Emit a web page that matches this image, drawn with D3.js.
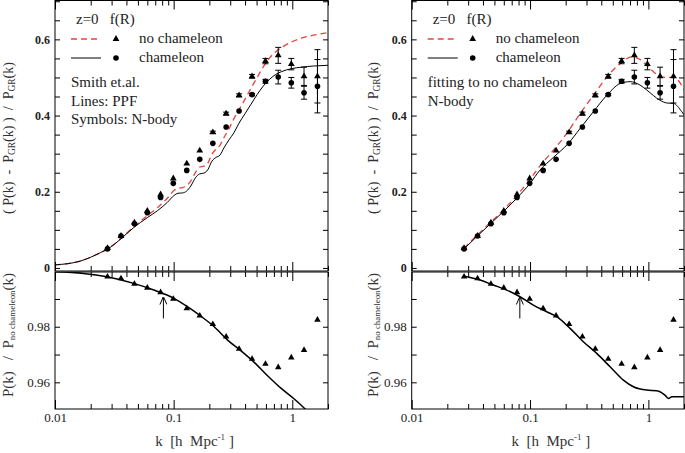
<!DOCTYPE html>
<html lang="en">
<head>
<meta charset="UTF-8">
<title>f(R) chameleon power spectrum</title>
<script src="https://d3js.org/d3.v7.min.js"></script>
<style>
  body { margin: 0; background: #fff; }
  svg { display: block; font-family: 'Liberation Serif', 'DejaVu Serif', serif; }
  .frame { fill: none; stroke: #000; stroke-width: 1; }
  .axis path { display: none; }
  .axis line { stroke: #000; stroke-width: 1; }
  .axis text { font-family: 'Liberation Serif', serif; fill: #222; }
  .up-y text { font-size: 12px; font-weight: bold; }
  .low-y text, .low-x text { font-size: 13px; }
  .legend { font-size: 15px; fill: #222; white-space: pre; }
  .ylab, .xlab { font-size: 15px; fill: #333; white-space: pre; }
</style>
</head>
<body>
<svg width="685" height="453"></svg>
<script>
// N-body measurements (same in both panels)
const kNbody = [0.0277, 0.036, 0.0467, 0.06, 0.0776, 0.0993, 0.129, 0.166, 0.214, 0.277, 0.356, 0.458, 0.594, 0.761, 0.981, 1.256, 1.63];
const nbodyNoCham = [0.052, 0.084, 0.119, 0.150, 0.193, 0.235, 0.274, 0.308, 0.356, 0.405, 0.453, 0.503, 0.543, 0.558, 0.535, 0.503, 0.503];
const nbodyNoChamErr = [0, 0, 0, 0, 0, 0, 0, 0, 0.003, 0.004, 0.004, 0.005, 0.007, 0.021, 0.015, 0.024, 0.07];
const nbodyCham = [0.050, 0.084, 0.116, 0.145, 0.185, 0.222, 0.256, 0.285, 0.327, 0.370, 0.412, 0.455, 0.490, 0.501, 0.486, 0.460, 0.477];
const nbodyChamErr = [0, 0, 0, 0, 0, 0, 0, 0, 0, 0, 0, 0.003, 0.005, 0.018, 0.014, 0.017, 0.07];
const nbodyRatio = [0.998, 0.9974, 0.9954, 0.9940, 0.9924, 0.990, 0.9866, 0.984, 0.9809, 0.9764, 0.972, 0.9684, 0.9666, 0.9654, 0.9689, 0.9716, 0.9825];

// left: PPF (Smith et al.)
const kPPF = [0.01, 0.0163, 0.0241, 0.0292, 0.0355, 0.0461, 0.0599, 0.0728, 0.0884, 0.1006, 0.1087, 0.1192, 0.1289, 0.1394, 0.1537, 0.1661, 0.1796, 0.1942, 0.2099, 0.227, 0.2454, 0.2653, 0.2925, 0.3224, 0.3555, 0.3998, 0.4494, 0.5052, 0.5679, 0.6386, 0.7177, 0.8069, 0.9806, 1.192, 1.507, 2.0];
const ppfNoCham = [0.008, 0.018, 0.040, 0.054, 0.076, 0.108, 0.137, 0.158, 0.183, 0.203, 0.209, 0.211, 0.216, 0.228, 0.252, 0.265, 0.267, 0.275, 0.298, 0.312, 0.322, 0.342, 0.365, 0.392, 0.415, 0.443, 0.472, 0.500, 0.527, 0.550, 0.566, 0.578, 0.593, 0.603, 0.611, 0.618];
const ppfCham = [0.008, 0.018, 0.040, 0.054, 0.075, 0.106, 0.132, 0.150, 0.172, 0.190, 0.196, 0.197, 0.202, 0.215, 0.238, 0.247, 0.249, 0.258, 0.280, 0.290, 0.296, 0.315, 0.336, 0.355, 0.380, 0.405, 0.430, 0.455, 0.477, 0.494, 0.507, 0.515, 0.523, 0.527, 0.530, 0.532];
const kRatioPPF = [0.01, 0.0174, 0.0274, 0.0461, 0.0681, 0.1006, 0.1306, 0.1694, 0.2197, 0.285, 0.370, 0.480, 0.622, 0.807, 1.045, 1.27, 1.6];
const ratioPPF = [0.9998, 0.9992, 0.998, 0.9956, 0.9932, 0.9902, 0.9872, 0.9838, 0.980, 0.9752, 0.9713, 0.9671, 0.9623, 0.9578, 0.9539, 0.9506, 0.946];

// right: fit to no-chameleon N-body
const kFitNoCham = [0.0277, 0.0354, 0.0459, 0.0595, 0.0772, 0.1, 0.1215, 0.1574, 0.2043, 0.2647, 0.3428, 0.445, 0.5767, 0.724, 0.8508, 1.034, 1.256, 1.43, 1.627, 1.977, 2.0];
const fitNoCham = [0.052, 0.085, 0.118, 0.152, 0.190, 0.233, 0.268, 0.309, 0.353, 0.405, 0.453, 0.501, 0.536, 0.554, 0.547, 0.523, 0.503, 0.500, 0.500, 0.471, 0.468];
const kFitCham = [0.0277, 0.0354, 0.0459, 0.0595, 0.0772, 0.1, 0.1215, 0.1574, 0.2108, 0.2647, 0.3428, 0.445, 0.5767, 0.7003, 0.8508, 0.9694, 1.256, 1.43, 1.627, 1.916, 2.0];
const fitCham = [0.050, 0.082, 0.115, 0.148, 0.183, 0.222, 0.257, 0.290, 0.327, 0.366, 0.410, 0.453, 0.484, 0.489, 0.480, 0.467, 0.440, 0.433, 0.432, 0.410, 0.402];
const kRatioFit = [0.0277, 0.0378, 0.049, 0.0635, 0.0823, 0.1066, 0.1384, 0.168, 0.218, 0.282, 0.366, 0.475, 0.615, 0.747, 0.969, 1.18, 1.38, 1.476, 1.58, 2.0];
const ratioFit = [0.9982, 0.9968, 0.995, 0.9932, 0.9908, 0.9878, 0.9854, 0.9836, 0.9794, 0.9746, 0.9704, 0.9656, 0.9608, 0.9584, 0.9572, 0.957, 0.9554, 0.9542, 0.9548, 0.9548];

// scale marker k and ticks
const arrowK = 0.082, arrowFrom = 0.983, arrowTo = 0.9905;
const xTickVals = [0.01, 0.1, 1];
const xTickLabels = ["0.01", "0.1", "1"];
const yTicksUp = [0, 0.2, 0.4, 0.6];
const yTickLabelsUp = ["0", "0.2", "0.4", "0.6"];
const yTicksLow = [0.96, 0.98];
const yTickLabelsLow = ["0.96", "0.98"];

const svg = d3.select("svg");
const red = "#e8433d";

const defs = svg.append("defs");
defs.append("marker")
  .attr("id", "arrowhead")
  .attr("viewBox", "0 -4 8 8")
  .attr("refX", 7).attr("refY", 0)
  .attr("markerWidth", 8).attr("markerHeight", 8)
  .attr("markerUnits", "userSpaceOnUse")
  .attr("orient", "auto")
  .append("path").attr("d", "M0,-3.5L8,0L0,3.5").attr("fill", "none").attr("stroke", "#000");

const panels = [
  { x0: 55, x1: 328, yl: 13, fit: false },
  { x0: 411.7, x1: 684, yl: 378, fit: true }
];
const upTop = 0.5, upBot = 271, lowTop = 272, lowBot = 409;

function drawFrameAxes(g, x, y, top, bot, x0, x1, yMinor, yMajor, yLabels, cls, showX) {
  const minorLen = 5, majorLen = 9;
  g.append("rect").attr("class", "frame")
    .attr("x", x0).attr("y", top).attr("width", x1 - x0).attr("height", bot - top);

  const xMinor = x.ticks().filter(t => !xTickVals.includes(t));
  [[d3.axisTop, top], [d3.axisBottom, bot]].forEach(([ax, yy]) => {
    g.append("g").attr("class", "axis").attr("transform", `translate(0,${yy})`)
      .call(ax(x).tickValues(xMinor).tickSize(-minorLen).tickFormat(""));
    g.append("g").attr("class", "axis").attr("transform", `translate(0,${yy})`)
      .call(ax(x).tickValues(xTickVals).tickSize(-majorLen).tickFormat(""));
  });
  if (showX) {
    g.append("g").attr("class", "axis low-x").attr("transform", `translate(0,${bot})`)
      .call(d3.axisBottom(x).tickValues(xTickVals).tickSize(0).tickPadding(4)
        .tickFormat((d, i) => xTickLabels[i]));
  }
  [[d3.axisLeft, x0], [d3.axisRight, x1]].forEach(([ax, xx]) => {
    g.append("g").attr("class", "axis").attr("transform", `translate(${xx},0)`)
      .call(ax(y).tickValues(yMinor).tickSize(-minorLen).tickFormat(""));
  });
  g.append("g").attr("class", "axis " + cls).attr("transform", `translate(${x0},0)`)
    .call(d3.axisLeft(y).tickValues(yMajor).tickSize(0).tickPadding(5)
      .tickFormat((d, i) => yLabels[i]));
}

function linePath(g, x, y, ks, vs, stroke, width, dash) {
  const pts = ks.map((k, i) => [x(k), y(vs[i])]);
  g.append("path")
    .attr("d", d3.line().curve(d3.curveMonotoneX)(pts))
    .attr("fill", "none").attr("stroke", stroke)
    .attr("stroke-width", width)
    .attr("stroke-dasharray", dash || null);
}

function errBars(g, x, y, vals, errs) {
  kNbody.forEach((k, i) => {
    if (!errs[i]) return;
    const cx = x(k), a = y(vals[i] + errs[i]), b = y(vals[i] - errs[i]);
    g.append("path")
      .attr("d", `M${cx},${a}V${b}M${cx - 3},${a}H${cx + 3}M${cx - 3},${b}H${cx + 3}`)
      .attr("stroke", "#000").attr("stroke-width", 1).attr("fill", "none");
  });
}

function triangles(g, x, y, vals, size) {
  g.selectAll(null).data(kNbody).join("path")
    .attr("d", d3.symbol(d3.symbolTriangle).size(size))
    .attr("transform", (k, i) => `translate(${x(k)},${y(vals[i])})`)
    .attr("fill", "#000");
}

// squeeze a rotated title along its own direction to a given length
function fitRotated(t, cx, cy, len) {
  const w = t.node().getComputedTextLength();
  t.attr("transform", `translate(${cx},${cy}) rotate(-90) scale(${len / w},1)`);
}

panels.forEach((p, pi) => {
  const x = d3.scaleLog().domain([0.01, 2]).range([p.x0, p.x1]);
  const yUp = d3.scaleLinear().domain([-0.008, 0.702]).range([upBot, upTop]);
  const yLow = d3.scaleLinear().domain([0.9504, 0.9997]).range([lowBot, lowTop]);

  const g = svg.append("g");
  ["up", "low"].forEach(n => {
    defs.append("clipPath").attr("id", `clip-${n}-${pi}`).append("rect")
      .attr("x", p.x0).attr("width", p.x1 - p.x0)
      .attr("y", n === "up" ? upTop : lowTop)
      .attr("height", n === "up" ? upBot - upTop : lowBot - lowTop);
  });

  // upper panel
  const up = g.append("g").attr("clip-path", `url(#clip-up-${pi})`);
  if (p.fit) {
    linePath(up, x, yUp, kFitNoCham, fitNoCham, red, 1.3, "6,4");
    linePath(up, x, yUp, kFitCham, fitCham, "#000", 1);
  } else {
    linePath(up, x, yUp, kPPF, ppfNoCham, red, 1.3, "6,4");
    linePath(up, x, yUp, kPPF, ppfCham, "#000", 1);
  }
  errBars(up, x, yUp, nbodyNoCham, nbodyNoChamErr);
  errBars(up, x, yUp, nbodyCham, nbodyChamErr);
  triangles(up, x, yUp, nbodyNoCham, 20);
  up.selectAll(null).data(kNbody).join("circle")
    .attr("cx", k => x(k)).attr("cy", (k, i) => yUp(nbodyCham[i]))
    .attr("r", 2.8).attr("fill", "#000");

  drawFrameAxes(g, x, yUp, upTop, upBot, p.x0, p.x1,
    d3.range(0, 0.7001, 0.05), yTicksUp, yTickLabelsUp, "up-y", false);

  // lower panel
  const low = g.append("g").attr("clip-path", `url(#clip-low-${pi})`);
  if (p.fit) linePath(low, x, yLow, kRatioFit, ratioFit, "#000", 1.5);
  else linePath(low, x, yLow, kRatioPPF, ratioPPF, "#000", 1.5);
  triangles(low, x, yLow, nbodyRatio, 18);
  low.append("line")
    .attr("x1", x(arrowK)).attr("x2", x(arrowK))
    .attr("y1", yLow(arrowFrom)).attr("y2", yLow(arrowTo))
    .attr("stroke", "#000").attr("stroke-width", 1)
    .attr("marker-end", "url(#arrowhead)");

  drawFrameAxes(g, x, yLow, lowTop, lowBot, p.x0, p.x1,
    [0.96, 0.97, 0.98, 0.99], yTicksLow, yTickLabelsLow, "low-y", true);

  // legend
  const lx = p.x0;
  g.append("text").attr("class", "legend").attr("x", lx + 21).attr("y", 24)
    .text("z=0   f(R)");
  g.append("line").attr("x1", lx + 16).attr("x2", lx + 46).attr("y1", 39).attr("y2", 39)
    .attr("stroke", red).attr("stroke-width", 1.3).attr("stroke-dasharray", "6,4");
  g.append("path").attr("d", d3.symbol(d3.symbolTriangle).size(20))
    .attr("transform", `translate(${lx + 61},39)`).attr("fill", "#000");
  g.append("text").attr("class", "legend").attr("x", lx + 84).attr("y", 43).text("no chameleon");
  g.append("line").attr("x1", lx + 16).attr("x2", lx + 46).attr("y1", 58).attr("y2", 58)
    .attr("stroke", "#000").attr("stroke-width", 1);
  g.append("circle").attr("cx", lx + 61).attr("cy", 58).attr("r", 2.8).attr("fill", "#000");
  g.append("text").attr("class", "legend").attr("x", lx + 84).attr("y", 62).text("chameleon");

  const notes = p.fit ? ["fitting to no chameleon", "N-body"] : ["Smith et.al.", "Lines: PPF", "Symbols: N-body"];
  notes.forEach((t, i) => {
    g.append("text").attr("class", "legend").attr("x", lx + 16).attr("y", 87 + i * 18.5).text(t);
  });

  // axis titles
  const yt = g.append("text").attr("class", "ylab").attr("text-anchor", "middle");
  yt.append("tspan").text("( P(k)  -  P");
  yt.append("tspan").attr("font-size", 10).attr("dy", 2).text("GR");
  yt.append("tspan").attr("dy", -2).text("(k) )  /  P");
  yt.append("tspan").attr("font-size", 10).attr("dy", 2).text("GR");
  yt.append("tspan").attr("dy", -2).text("(k)");
  fitRotated(yt, p.yl, 138, 152);

  const yt2 = g.append("text").attr("class", "ylab").attr("text-anchor", "middle");
  yt2.append("tspan").text("P(k)   /  P");
  yt2.append("tspan").attr("font-size", 9).attr("dy", 2).text("no chameleon");
  yt2.append("tspan").attr("dy", -2).text("(k)");
  fitRotated(yt2, p.yl, 335, 124);

  const xt = g.append("text").attr("class", "xlab").attr("text-anchor", "middle")
    .attr("x", (p.x0 + p.x1) / 2 + 3).attr("y", 446);
  xt.append("tspan").text("k  [h  Mpc");
  xt.append("tspan").attr("font-size", 9).attr("dy", -6).text("-1");
  xt.append("tspan").attr("dy", 6).text(" ]");
});
</script>
</body>
</html>
